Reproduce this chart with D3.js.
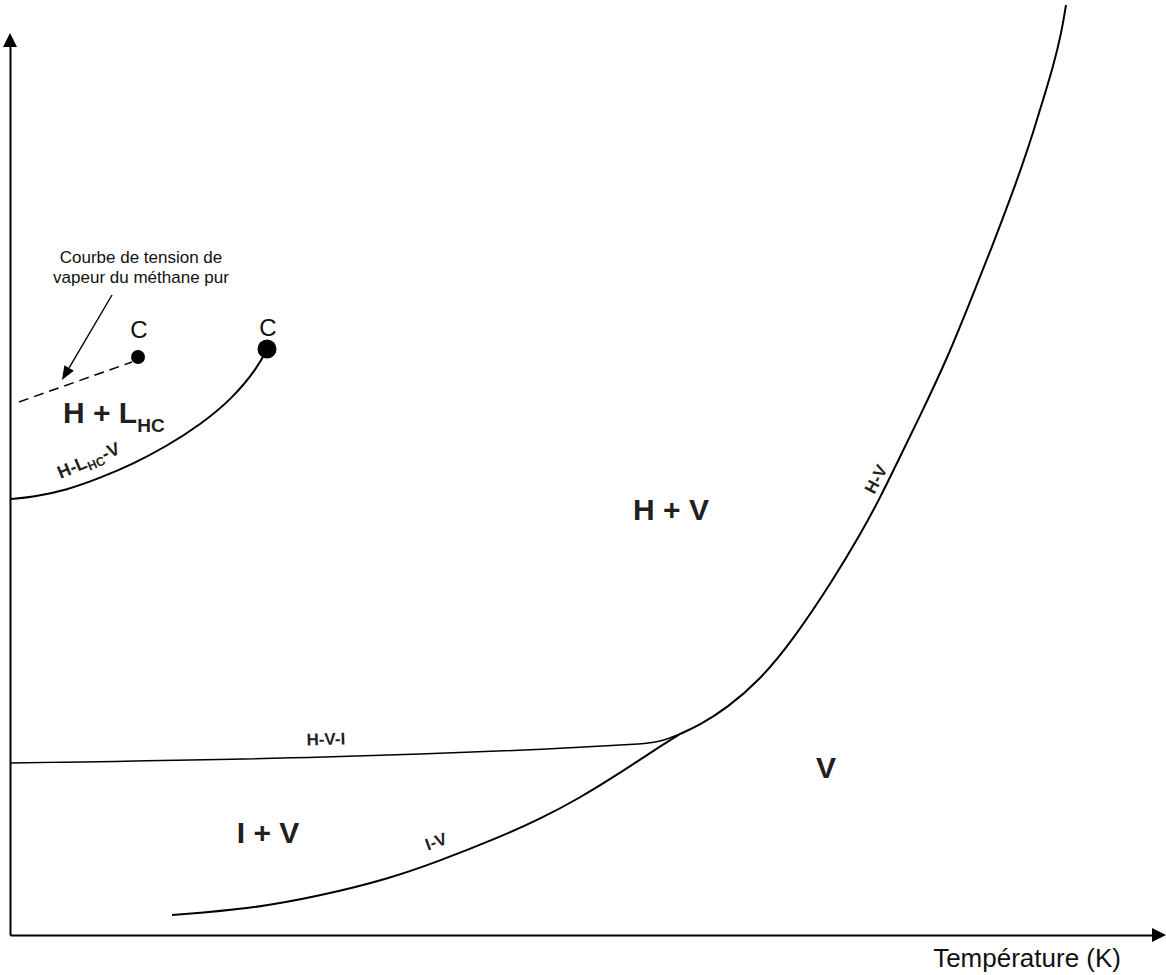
<!DOCTYPE html>
<html>
<head>
<meta charset="utf-8">
<script src="https://cdn.jsdelivr.net/npm/d3@7"></script>
<style>
  body { margin: 0; background: #fff; }
  svg { display: block; font-family: Arial, "Liberation Sans", sans-serif; }
</style>
</head>
<body>
<div id="chart"></div>
<script>
// Diagramme de phases (hydrates de méthane) - unités arbitraires
const width = 1166;
const height = 975;

// courbes d'équilibre [température, pression] (unités arbitraires)
const hvCurve = [[67.0,20.1],[69.0,21.0],[71.7,22.7],[75.0,25.5],[78.3,29.5],[82.3,35.5],[85.0,40.0],
  [87.0,43.7],[88.7,47.2],[91.0,51.9],[93.7,57.6],[96.0,63.3],[98.2,68.8],[100.2,74.1],[101.3,77.2],
  [102.3,80.2],[103.3,83.5],[104.3,86.8],[105.1,90.0],[105.6,93.0]];
const ivCurve = [[16.2,2.0],[24.0,2.6],[31.0,3.9],[37.8,5.6],[42.7,7.3],[49.0,9.8],[53.0,11.6],
  [56.8,13.6],[61.0,16.2],[64.3,18.4],[67.0,20.1]];
const hviCurve = [[0,17.2],[62.8,19.1],[65.0,19.4],[67.0,20.1]];
const hlvCurve = [[0,43.6],[2.3,43.8],[5.7,44.5],[9.0,45.7],[12.3,47.1],[15.7,48.9],[19.0,51.0],
  [22.3,53.7],[24.8,56.8],[25.7,58.6]];
const methaneCurve = [[0.9,53.3],[12.2,57.3]];

// points critiques
const criticalPoints = [
  { name: "C", t: 12.8, p: 57.8, big: false },
  { name: "C", t: 25.7, p: 58.6, big: true }
];

// noms des domaines
const regionNames = ["H + V", "V", "I + V"];
const regionPos = [[66.1, 41.5], [81.6, 15.7], [25.8, 9.2]];

const curveNames = ["H-V-I", "I-V", "H-V"];
const curvePos = [[31.6, 19.0], [42.8, 8.8], [87.1, 45.3]];
const curveAngles = [-1.8, -20, -62];

const noteLines = ["Courbe de tension de", "vapeur du méthane pur"];
const noteArrow = [[10.2, 64.0], [5.2, 55.5]];

// 1. SVG
const svg = d3.select("#chart")
  .append("svg")
  .attr("width", width)
  .attr("height", height)
  .attr("viewBox", `0 0 ${width} ${height}`);

// échelles
const x = d3.scaleLinear().domain([0, 115.6]).range([10, 1166]);
const y = d3.scaleLinear().domain([0, 93.5]).range([935, 0]);

// 2. axes (sans graduations) avec flèches
const xAxisScale = x.copy().domain([0, x.invert(1158)]).range([10, 1158]);
const yAxisScale = y.copy().domain([0, y.invert(42)]).range([935, 42]);

svg.append("g")
  .attr("transform", `translate(0,${y(0)})`)
  .call(d3.axisBottom(xAxisScale).ticks(0).tickSizeOuter(0))
  .call(g => g.select(".domain").attr("stroke", "#000").attr("stroke-width", 2));

svg.append("g")
  .attr("transform", `translate(${x(0)},0)`)
  .call(d3.axisLeft(yAxisScale).ticks(0).tickSizeOuter(0))
  .call(g => g.select(".domain").attr("stroke", "#000").attr("stroke-width", 2));

// pointes des axes
svg.append("path")
  .attr("d", `M${x(0)},33 L${x(0) - 7},47 L${x(0) + 7},47 Z`)
  .attr("fill", "#000");
svg.append("path")
  .attr("d", `M1166,${y(0)} L1152,${y(0) - 7} L1152,${y(0) + 7} Z`)
  .attr("fill", "#000");

svg.append("text")
  .attr("x", 1121)
  .attr("y", 967)
  .attr("text-anchor", "end")
  .attr("font-size", 26)
  .attr("fill", "#111")
  .text("Température (K)");

// 3. courbes
const lineStraight = d3.line().x(d => x(d[0])).y(d => y(d[1])).curve(d3.curveMonotoneX);
const lineSmooth = d3.line().x(d => x(d[0])).y(d => y(d[1])).curve(d3.curveBasis);

svg.append("path")
  .datum(hviCurve)
  .attr("d", lineStraight)
  .attr("fill", "none").attr("stroke", "#000").attr("stroke-width", 1.5);

[ivCurve, hvCurve, hlvCurve].forEach(c => {
  svg.append("path")
    .datum(c)
    .attr("d", lineSmooth)
    .attr("fill", "none").attr("stroke", "#000").attr("stroke-width", 2);
});

svg.append("path")
  .datum(methaneCurve)
  .attr("d", lineStraight)
  .attr("fill", "none").attr("stroke", "#000").attr("stroke-width", 1.5)
  .attr("stroke-dasharray", "10,6");

// points critiques
svg.selectAll("circle.crit")
  .data(criticalPoints)
  .enter().append("circle")
  .attr("class", "crit")
  .attr("cx", d => x(d.t))
  .attr("cy", d => y(d.p))
  .attr("r", d => d.big ? 9.5 : 7)
  .attr("fill", "#000");

svg.selectAll("text.crit")
  .data(criticalPoints)
  .enter().append("text")
  .attr("class", "crit")
  .attr("x", d => x(d.t) + 1)
  .attr("y", d => y(d.p) - (d.big ? 13 : 19))
  .attr("text-anchor", "middle")
  .attr("font-size", 24)
  .attr("fill", "#111")
  .text(d => d.name);

// 4. annotation (tension de vapeur du méthane pur)
svg.selectAll("text.note")
  .data(noteLines)
  .enter().append("text")
  .attr("class", "note")
  .attr("x", x(13.1))
  .attr("y", (d, i) => y(67.2) + i * 20)
  .attr("text-anchor", "middle")
  .attr("font-size", 17)
  .attr("fill", "#111")
  .text(d => d);

const [a0, a1] = noteArrow.map(d => [x(d[0]), y(d[1])]);
const ang = Math.atan2(a1[1] - a0[1], a1[0] - a0[0]);
const headL = 14, headW = 5.5;
const base = [a1[0] - headL * Math.cos(ang), a1[1] - headL * Math.sin(ang)];
svg.append("line")
  .attr("x1", a0[0]).attr("y1", a0[1])
  .attr("x2", base[0]).attr("y2", base[1])
  .attr("stroke", "#000").attr("stroke-width", 1.4);
svg.append("path")
  .attr("d", `M${a1[0]},${a1[1]}
    L${base[0] + headW * Math.sin(ang)},${base[1] - headW * Math.cos(ang)}
    L${base[0] - headW * Math.sin(ang)},${base[1] + headW * Math.cos(ang)} Z`)
  .attr("fill", "#000");

// 5. noms des domaines
svg.selectAll("text.region")
  .data(regionNames)
  .enter().append("text")
  .attr("class", "region")
  .attr("x", (d, i) => x(regionPos[i][0]))
  .attr("y", (d, i) => y(regionPos[i][1]))
  .attr("text-anchor", "middle")
  .attr("font-size", 30)
  .attr("font-weight", "bold")
  .attr("fill", "#231f20")
  .text(d => d);

// H + L_HC (avec indice)
const hl = svg.append("text")
  .attr("x", x(5.3))
  .attr("y", y(51.2))
  .attr("font-size", 30)
  .attr("font-weight", "bold")
  .attr("fill", "#231f20");
hl.append("tspan").text("H + L");
hl.append("tspan").attr("font-size", 19).attr("dy", 9).text("HC");

// 6. noms des courbes
svg.selectAll("text.curve")
  .data(curveNames)
  .enter().append("text")
  .attr("class", "curve")
  .attr("transform", (d, i) => `translate(${x(curvePos[i][0])},${y(curvePos[i][1])}) rotate(${curveAngles[i]})`)
  .attr("text-anchor", "middle")
  .attr("font-size", 17)
  .attr("font-weight", "bold")
  .attr("fill", "#231f20")
  .text(d => d);

// H-L_HC-V (avec indice)
const hlv = svg.append("text")
  .attr("transform", `translate(${x(8.1)},${y(46.9)}) rotate(-23)`)
  .attr("text-anchor", "middle")
  .attr("font-size", 18)
  .attr("font-weight", "bold")
  .attr("fill", "#231f20");
hlv.append("tspan").text("H-L");
hlv.append("tspan").attr("font-size", 12.5).attr("dy", 4).text("HC");
hlv.append("tspan").attr("dy", -4).text("-V");
</script>
</body>
</html>
